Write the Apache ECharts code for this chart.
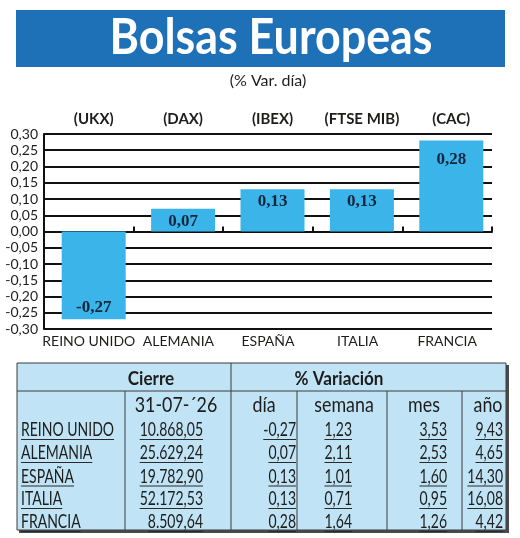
<!DOCTYPE html>
<html><head><meta charset="utf-8">
<script src="https://cdn.jsdelivr.net/npm/echarts@6/dist/echarts.min.js"></script>
<style>html,body{margin:0;padding:0;background:#fff}#c{width:520px;height:538px}</style>
</head><body><div id="c"></div>
<script>
// ---------- DATA ----------
const titleText = 'Bolsas Europeas';
const subtitleText = '(% Var. día)';
const categories = ['REINO UNIDO', 'ALEMANIA', 'ESPAÑA', 'ITALIA', 'FRANCIA'];
const indexCodes = ['(UKX)', '(DAX)', '(IBEX)', '(FTSE MIB)', '(CAC)'];
const dayChange = [-0.27, 0.07, 0.13, 0.13, 0.28];
const yMin = -0.30, yMax = 0.30, yStep = 0.05;
const closeDate = '31-07-´26';
const closeValues = ['10.868,05', '25.629,24', '19.782,90', '52.172,53', '8.509,64'];
const weekChange = ['1,23', '2,11', '1,01', '0,71', '1,64'];
const monthChange = ['3,53', '2,53', '1,60', '0,95', '1,26'];
const yearChange = ['9,43', '4,65', '14,30', '16,08', '4,42'];
const tableHeader1 = ['Cierre', '% Variación'];
const tableHeader2 = ['día', 'semana', 'mes', 'año'];

// ---------- HELPERS ----------
const fmt = v => v.toFixed(2).replace('.', ',');
const mctx = document.createElement('canvas').getContext('2d');
function measure(text, font) { mctx.font = font; return mctx.measureText(text).width; }
const INK = '#1d1d1b';

const els = [];
function addText(str, x, baseline, o) {
  const size = o.size, font = (o.weight || 'normal') + ' ' + size + 'px Lato';
  const sx = o.sx || 1;
  const yMid = baseline - 0.36 * size;
  els.push({type: 'text', x: x, y: yMid, scaleX: sx, z: 10,
    style: {text: str, font: font, fill: o.fill || INK, align: o.align || 'left', verticalAlign: 'middle'}});
  if (o.underline) {
    const w = measure(str, font) * sx;
    const x0 = o.align === 'right' ? x - w : (o.align === 'center' ? x - w / 2 : x);
    els.push({type: 'line', z: 10, shape: {x1: x0, y1: baseline + 2.5, x2: x0 + w, y2: baseline + 2.5},
      style: {stroke: '#2a2a2a', lineWidth: 1}});
  }
}
function addLine(x1, y1, x2, y2, w, c) {
  els.push({type: 'line', z: 9, shape: {x1, y1, x2, y2}, style: {stroke: c || '#3c3c3c', lineWidth: w || 1}});
}

// ---------- BANNER ----------
els.push({type: 'rect', z: 1, shape: {x: 16, y: 10, width: 489, height: 57}, style: {fill: '#1f71b7'}});
const titleFont = 'bold 50px Lato';
els.push({type: 'text', z: 2, x: 271, y: 38, scaleX: 323 / measure(titleText, titleFont),
  style: {text: titleText, font: titleFont, fill: '#ffffff', align: 'center', verticalAlign: 'middle'}});
els.push({type: 'text', z: 2, x: 268, y: 81,
  style: {text: subtitleText, font: 'normal 16px Lato', fill: INK, align: 'center', verticalAlign: 'middle'}});

// ---------- TABLE ----------
const colX = [17, 125, 231, 297, 387, 462, 506];
const tTop = 363, tH1 = 391, tBottom = 530;
els.push({type: 'rect', z: 5, shape: {x: colX[0] + 2, y: tTop + 2, width: colX[6] - colX[0] + 1, height: tBottom - tTop + 1}, style: {fill: '#4a4a4a'}});
els.push({type: 'rect', z: 6, shape: {x: colX[0], y: tTop, width: colX[6] - colX[0], height: tBottom - tTop}, style: {fill: '#c0e3f5', stroke: '#3c3c3c', lineWidth: 1}});
addLine(colX[0], tH1, colX[6], tH1);
addLine(colX[1], tH1, colX[1], tBottom);
addLine(colX[2], tTop, colX[2], tBottom);
addLine(colX[3], tH1, colX[3], tBottom);
addLine(colX[4], tH1, colX[4], tBottom);
addLine(colX[5], tH1, colX[5], tBottom);

addText(tableHeader1[0], 151, 386, {size: 18, weight: 'bold', align: 'center', sx: 0.95});
addText(tableHeader1[1], 339, 386, {size: 18, weight: 'bold', align: 'center', sx: 0.95});
addText(closeDate, 176, 413, {size: 21, align: 'center', sx: 0.85});
const h2x = [264, 344, 424, 488];
tableHeader2.forEach((t, i) => addText(t, h2x[i], 413, {size: 21, align: 'center', sx: 0.85}));

const rowBase = [437, 460, 483.5, 506, 529];
categories.forEach((name, i) => {
  const b = rowBase[i];
  const o = {size: 20, sx: 0.7, underline: true};
  addText(name, 21, b, Object.assign({}, o, {align: 'left'}));
  addText(closeValues[i], 203, b, Object.assign({}, o, {align: 'right'}));
  addText(fmt(dayChange[i]), 296, b, Object.assign({}, o, {align: 'right'}));
  addText(weekChange[i], 352, b, Object.assign({}, o, {align: 'right'}));
  addText(monthChange[i], 447, b, Object.assign({}, o, {align: 'right'}));
  addText(yearChange[i], 503, b, Object.assign({}, o, {align: 'right'}));
});

// ---------- CHART ----------
const chart = echarts.init(document.getElementById('c'), null, {renderer: 'canvas'});
const gridTop = 134, gridBottom = 538 - 329;
const option = {
  animation: false,
  backgroundColor: '#ffffff',
  grid: [
    {left: 49, right: 24, top: gridTop, bottom: gridBottom},
    {left: 44, right: 28, top: gridTop, bottom: gridBottom}
  ],
  xAxis: [
    {gridIndex: 0, type: 'category', data: indexCodes, position: 'top',
      axisLine: {show: false}, axisTick: {show: false}, splitLine: {show: false},
      axisLabel: {interval: 0, margin: 7, color: INK, fontFamily: 'Lato', fontWeight: 'bold', fontSize: 15}},
    {gridIndex: 1, type: 'category', data: categories, position: 'bottom',
      axisLine: {show: true, onZero: true, lineStyle: {color: '#111', width: 2}},
      axisTick: {show: true, interval: 0, inside: true, length: 5, lineStyle: {color: '#111', width: 2}},
      axisLabel: {show: false}, splitLine: {show: false}},
    {gridIndex: 1, type: 'category', data: categories, position: 'bottom',
      axisLine: {show: false, onZero: false}, axisTick: {show: false}, splitLine: {show: false},
      axisLabel: {interval: 0, margin: 5, color: INK, fontFamily: 'Lato', fontSize: 14}}
  ],
  yAxis: [
    {gridIndex: 0, type: 'value', min: yMin, max: yMax, interval: yStep, show: false},
    {gridIndex: 1, type: 'value', min: yMin, max: yMax, interval: yStep,
      axisLine: {show: true, lineStyle: {color: '#111', width: 2}},
      axisTick: {show: false},
      splitLine: {show: true, lineStyle: {color: '#111', width: 2}},
      axisLabel: {margin: 6, color: INK, fontFamily: 'Lato', fontSize: 14, formatter: v => fmt(v)}}
  ],
  series: [{
    type: 'bar', xAxisIndex: 0, yAxisIndex: 0, barWidth: 64, z: 5,
    itemStyle: {color: '#3ab4e9'},
    label: {show: true, color: '#13263d', fontFamily: 'Liberation Serif', fontWeight: 'bold', fontSize: 17,
      formatter: p => fmt(p.value)},
    data: dayChange.map(v => ({
      value: v,
      label: {position: v < 0 ? 'insideBottom' : 'insideTop', distance: v < 0 ? 3 : (v > 0.2 ? 11 : 4)}
    }))
  }],
  graphic: {elements: els}
};
chart.setOption(option);
</script></body></html>
